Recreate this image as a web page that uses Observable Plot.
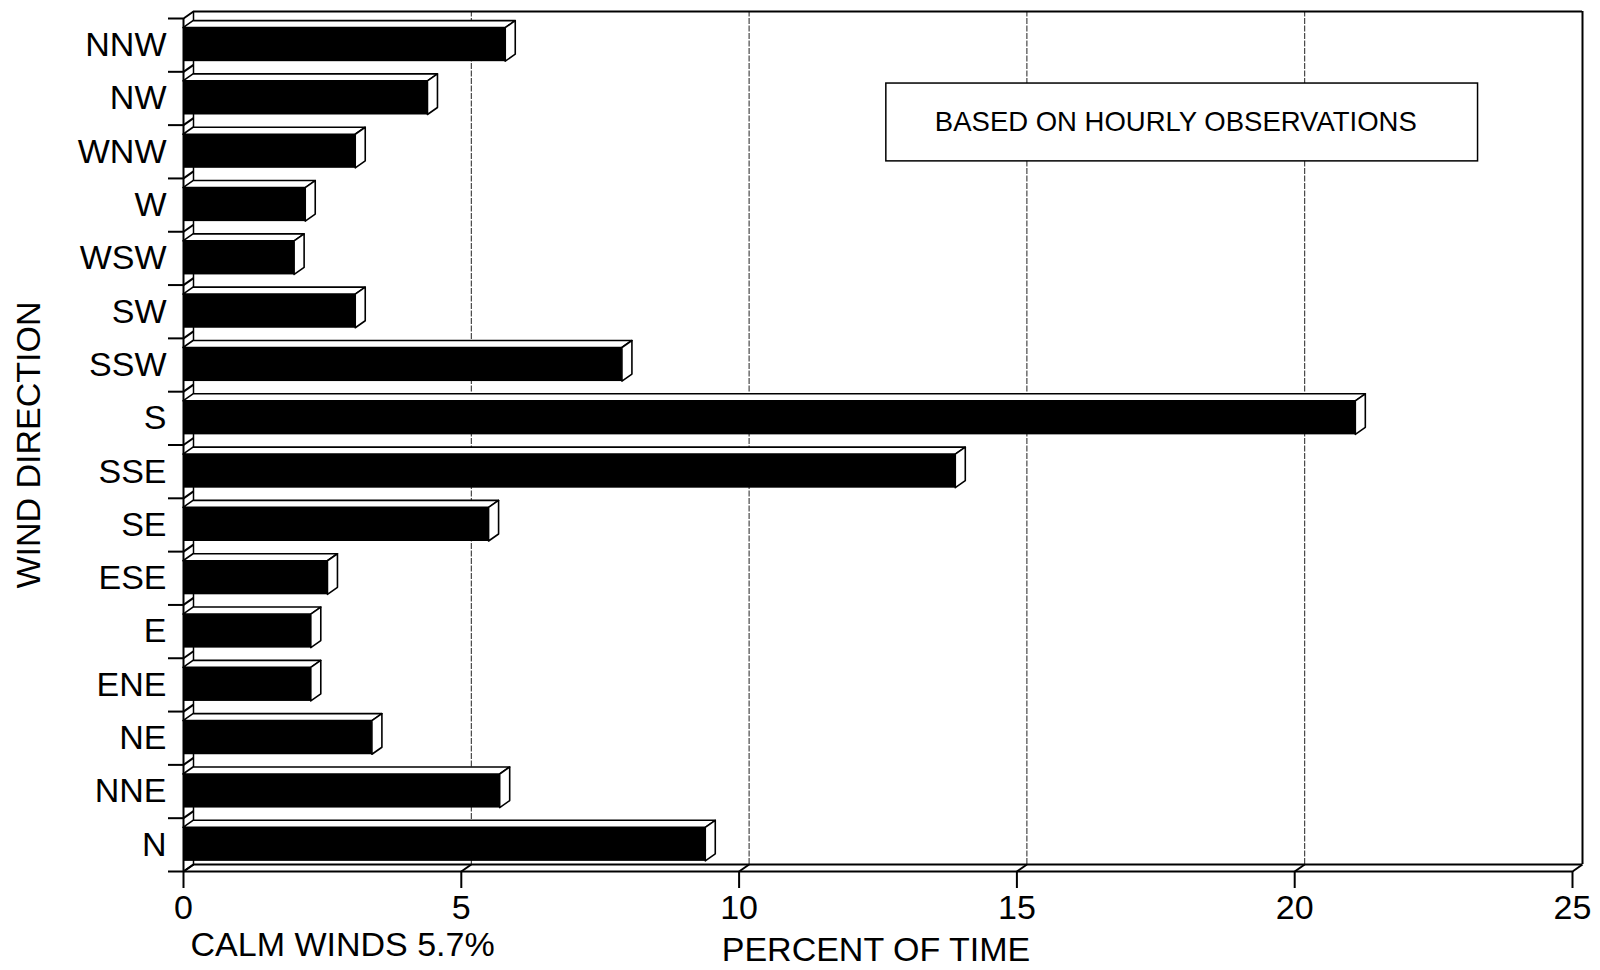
<!DOCTYPE html>
<html>
<head>
<meta charset="utf-8">
<script src="https://cdn.jsdelivr.net/npm/d3@7"></script>
<script src="https://cdn.jsdelivr.net/npm/@observablehq/plot@0.6"></script>
<style>
  html, body { margin: 0; padding: 0; background: #fff; }
  #chart svg { display: block; }
</style>
</head>
<body>
<div id="chart"></div>
<script>
// Wind directions, listed from the bottom row (N) to the top row (NNW)
const directions = ["N", "NNE", "NE", "ENE", "E", "ESE", "SE", "SSE", "S", "SSW", "SW", "WSW", "W", "WNW", "NW", "NNW"];
// Percent of time the wind blows from each direction
const percents = [9.4, 5.7, 3.4, 2.3, 2.3, 2.6, 5.5, 13.9, 21.1, 7.9, 3.1, 2.0, 2.2, 3.1, 4.4, 5.8];
// Percent axis ticks
const xTicks = [0, 5, 10, 15, 20, 25];
const gridTicks = [5, 10, 15, 20];
const calmPercent = 5.7;
const noteText = "BASED ON HOURLY OBSERVATIONS";

// Layout
const W = 1600, H = 970;
const mL = 183, mR = 28, mT = 18, mB = 99;
const xMax = 25, nRows = directions.length;
const ux = xMax / (W - mL - mR);   // data units per pixel, horizontal
const uy = nRows / (H - mT - mB);  // data units per pixel, vertical
const depthX = 10 * ux, depthY = 7 * uy;  // 3-D depth of the boxes and walls
const barLo = 0.19, barHi = 0.82;          // bar extent inside its row

const rows = directions.map((dir, i) => ({dir, i, v: percents[i]}));

// Top face of each bar: parallelogram receding up and to the right
const topFaces = rows.flatMap(r => [
  {i: r.i, y: r.i + barHi, x1: 0, x2: r.v},
  {i: r.i, y: r.i + barHi + depthY, x1: depthX, x2: r.v + depthX}
]);
// End cap of each bar
const endCaps = rows.flatMap(r => [
  {i: r.i, x: r.v, y1: r.i + barLo, y2: r.i + barHi},
  {i: r.i, x: r.v + depthX, y1: r.i + barLo + depthY, y2: r.i + barHi + depthY}
]);
const boundaries = d3.range(nRows + 1);

const font = "'Liberation Sans', Arial, Helvetica, sans-serif";
const line = {stroke: "black", strokeWidth: 2};

const chart = Plot.plot({
  width: W,
  height: H,
  marginLeft: mL,
  marginRight: mR,
  marginTop: mT,
  marginBottom: mB,
  x: {domain: [0, xMax], axis: null},
  y: {domain: [0, nRows], axis: null},
  style: {fontFamily: font, background: "white", color: "black", overflow: "visible"},
  marks: [
    // back wall gridlines
    Plot.ruleX(gridTicks, {x: d => d + depthX, y1: () => depthY, y2: () => nRows + depthY, stroke: "#222", strokeWidth: 1, strokeDasharray: "6,1.5"}),
    // back wall frame
    Plot.ruleY([nRows + depthY], {x1: () => depthX, x2: () => xMax + depthX, ...line}),
    Plot.ruleX([xMax + depthX], {y1: () => depthY, y2: () => nRows + depthY, ...line}),
    Plot.ruleX([depthX], {y1: () => depthY, y2: () => nRows + depthY, stroke: "black", strokeWidth: 1.5}),
    // floor
    Plot.ruleY([depthY], {x1: () => depthX, x2: () => xMax + depthX, ...line}),
    Plot.ruleY([0], {x1: () => 0, x2: () => xMax, ...line}),
    Plot.link(xTicks, {x1: d => d, y1: () => 0, x2: d => d + depthX, y2: () => depthY, ...line}),
    // left wall
    Plot.link(boundaries, {x1: () => 0, y1: d => d, x2: () => depthX, y2: d => d + depthY, ...line}),
    Plot.ruleX([0], {y1: () => 0, y2: () => nRows, ...line}),
    // ticks
    Plot.ruleY(boundaries, {y: d => d, x1: () => 0, x2: () => -15 * ux, ...line}),
    Plot.ruleX(xTicks, {x: d => d, y1: () => 0, y2: () => -17 * uy, ...line}),
    // bars: front face, top face, end cap
    Plot.rect(rows, {x1: () => 0, x2: "v", y1: r => r.i + barLo, y2: r => r.i + barHi, fill: "black"}),
    Plot.areaX(topFaces, {y: "y", x1: "x1", x2: "x2", z: "i", fill: "white", stroke: "black", strokeWidth: 1.6}),
    Plot.areaY(endCaps, {x: "x", y1: "y1", y2: "y2", z: "i", fill: "white", stroke: "black", strokeWidth: 1.6}),
    // direction labels
    Plot.text(rows, {x: () => 0, y: r => r.i + 0.5, text: "dir", textAnchor: "end", dx: -17, fontSize: 34}),
    // percent tick labels
    Plot.text(xTicks, {x: d => d, y: () => 0, text: d => String(d), dy: 37, fontSize: 34}),
    // axis titles
    Plot.text(["WIND DIRECTION"], {frameAnchor: "left", textAnchor: "middle", lineAnchor: "middle", dx: -154, rotate: -90, fontSize: 34}),
    Plot.text(["PERCENT OF TIME"], {frameAnchor: "bottom", textAnchor: "middle", lineAnchor: "middle", dx: -2, dy: 79, fontSize: 34}),
    Plot.text([calmPercent], {x: () => 0, y: () => 0, text: d => `CALM WINDS ${d}%`, textAnchor: "start", dx: 7, dy: 74, fontSize: 34}),
    // note box
    Plot.rect([noteText], {x1: () => 12.65, x2: () => 23.3, y1: () => 13.32, y2: () => 14.78, fill: "white", stroke: "black", strokeWidth: 1.5}),
    Plot.text([noteText], {x: () => 17.86, y: () => 14.05, text: d => d, fontSize: 27.5})
  ]
});

document.getElementById("chart").appendChild(chart);
</script>
</body>
</html>
